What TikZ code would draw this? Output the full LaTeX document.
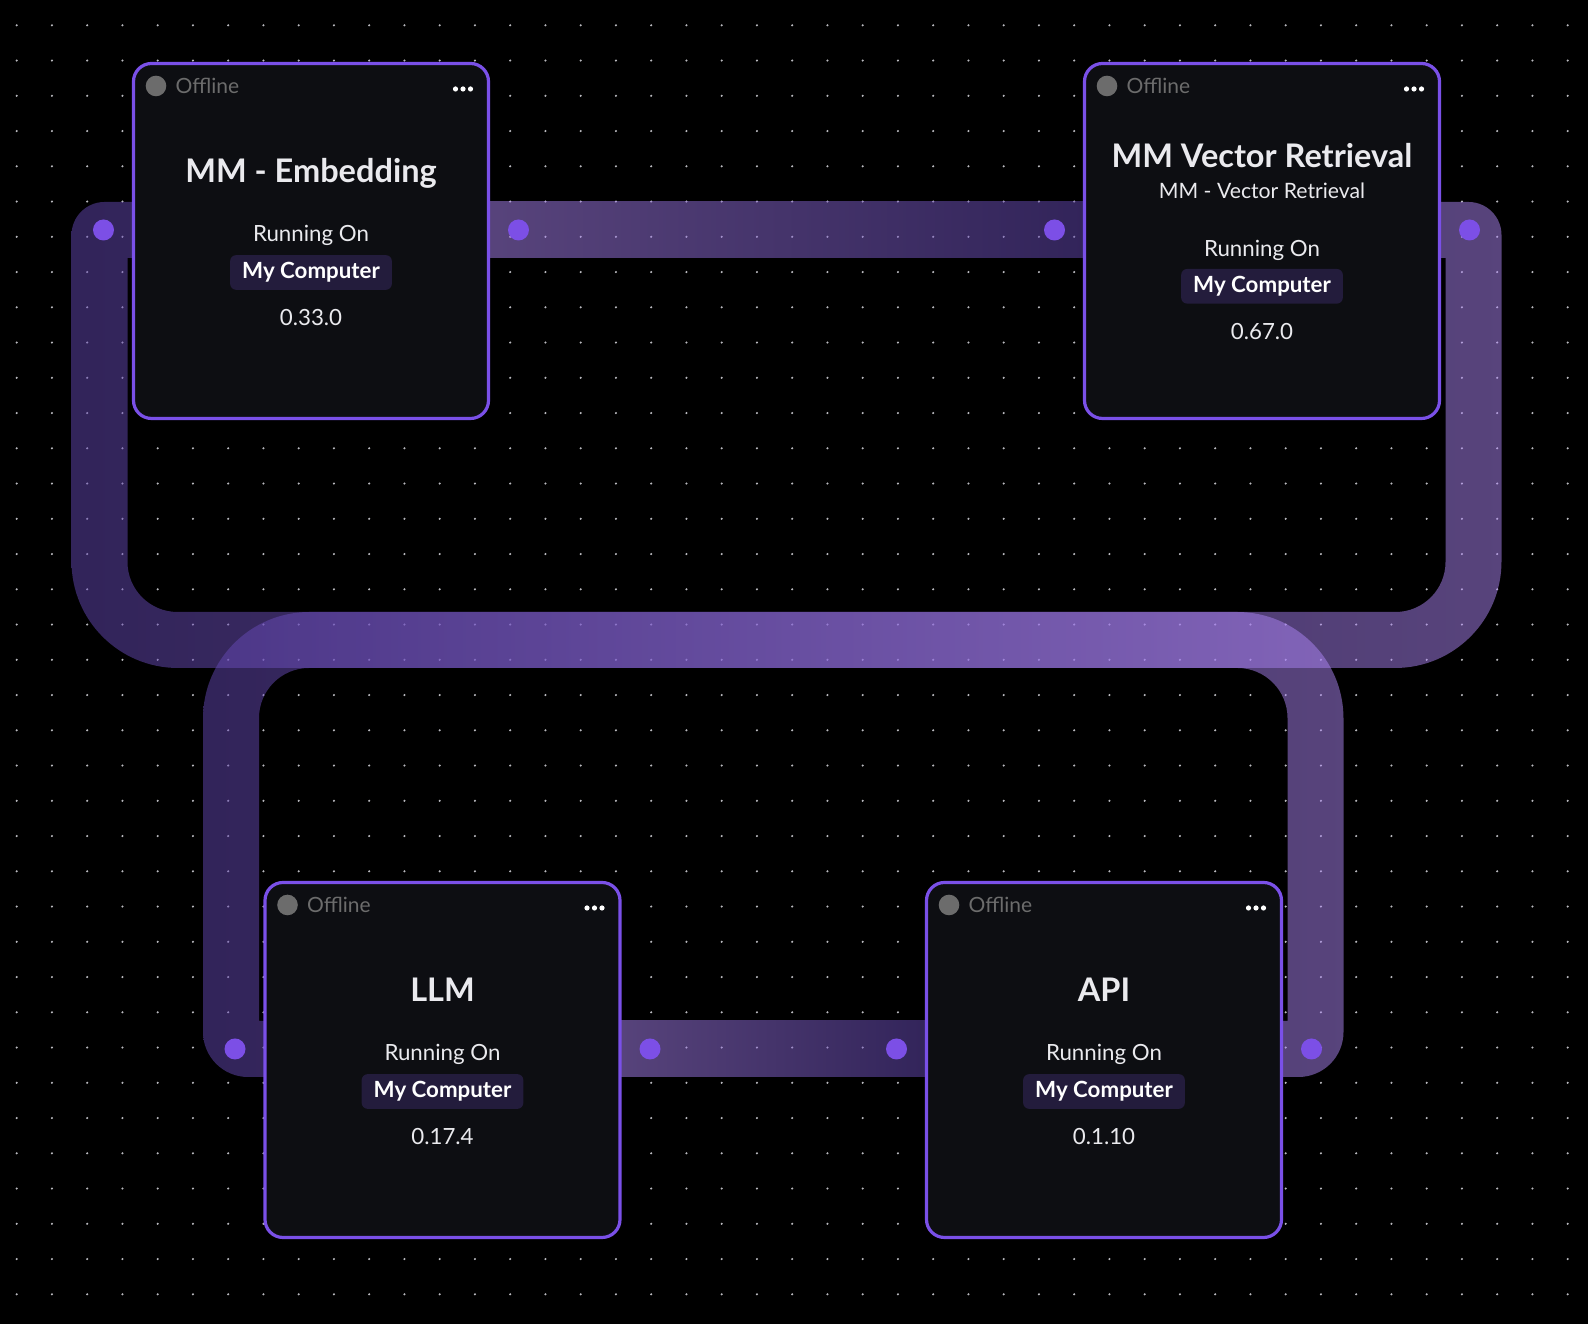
\documentclass[tikz,border=0pt]{standalone}
\usepackage{fontspec}
\setmainfont{Lato}
\usepackage{tikz}
\usetikzlibrary{
  positioning,
  calc
}
\definecolor{cardFill}{RGB}{13,14,18}
\definecolor{cardLine}{RGB}{122,80,232}
\definecolor{handleCol}{RGB}{124,79,230}
\definecolor{badgeFill}{RGB}{35,28,60}
\definecolor{offGray}{RGB}{108,108,108}
\definecolor{textWhite}{RGB}{234,234,238}
\definecolor{gridDot}{RGB}{185,185,190}
\definecolor{bandDark}{RGB}{100,72,180}
\definecolor{bandLight}{RGB}{176,136,248}
\pgfdeclarelayer{grid}
\pgfdeclarelayer{bands}
\pgfsetlayers{grid,bands,main}

\begin{document}
\begin{tikzpicture}[x=1pt, y=1pt,
    card/.style={draw=cardLine, fill=cardFill, line width=3.2pt, rounded corners=18pt,
      minimum width=355pt, minimum height=355pt, inner sep=0pt, outer sep=0pt},
    handle/.style={circle, fill=handleCol, minimum size=21pt, inner sep=0pt},
    status/.style={circle, fill=offGray, minimum size=20.6pt, inner sep=0pt},
    offline/.style={font=\fontsize{21}{25}\selectfont, text=offGray, inner sep=0pt},
    title/.style={font=\bfseries\fontsize{32.5}{39}\selectfont, text=textWhite, inner sep=0pt, anchor=base},
    label/.style={font=\fontsize{22.3}{27}\selectfont, text=textWhite, inner sep=0pt, anchor=base},
    badge/.style={fill=badgeFill, rounded corners=6pt, minimum width=161.7pt, minimum height=34.7pt,
      inner sep=0pt, font=\bfseries\fontsize{22.3}{27}\selectfont, text=white},
    band/.style={opacity=0.5}
  ]
      \useasboundingbox (0,0) rectangle (1588,1324);

      % 背景と点のグリッド
      \begin{pgfonlayer}{grid}
        \fill[black] (0,0) rectangle (1588,1324);
        \foreach \i in {0,...,44}
          \foreach \j in {0,...,36}
            \fill[gridDot] (16.7+35.25*\i, 1298.7-35.25*\j) circle (1.2);
      \end{pgfonlayer}

      % 4つのカード
      \node[card] (emb) at (311,1083) {};
      \node[card] (vec) at (1262,1083) {};
      \node[card] (llm) at (442.5,264) {};
      \node[card] (api) at (1104,264) {};

      % カード共通：状態の丸、Offline、メニューの点、左右のハンドル
      \foreach \n in {emb,vec,llm,api} {
        \node[status] (\n-s) at ($(\n.center)+(-155,155)$) {};
        \node[offline, right=9pt of \n-s] (\n-off) {Offline};
        \foreach \k in {-7.5,0,7.5}
          \fill[white] ($(\n.center)+(152+\k,152)$) circle (2.6);
        \node[handle] (\n-l) at ($(\n.west)+(-30,11)$) {};
        \node[handle] (\n-r) at ($(\n.east)+(30,11)$) {};
      }

      % MM - Embedding
      \node[title] (emb-t) at ($(emb.center)+(0,58)$) {MM - Embedding};
      \node[label] (emb-run) at ($(emb.center)+(0,-1)$) {Running On};
      \node[badge] (emb-b) at ($(emb.center)+(0,-31.5)$) {My Computer};
      \node[label] (emb-v) at ($(emb.center)+(0,-84.5)$) {0.33.0};

      % MM Vector Retrieval
      \node[title] (vec-t) at ($(vec.center)+(0,73.5)$) {MM Vector Retrieval};
      \node[label, font=\fontsize{21.2}{26}\selectfont] (vec-sub) at ($(vec.center)+(0,42.5)$) {MM - Vector Retrieval};
      \node[label] (vec-run) at ($(vec.center)+(0,-15.2)$) {Running On};
      \node[badge] (vec-b) at ($(vec.center)+(0,-45.3)$) {My Computer};
      \node[label] (vec-v) at ($(vec.center)+(0,-98.5)$) {0.67.0};

      % LLM
      \node[title] (llm-t) at ($(llm.center)+(0,58)$) {LLM};
      \node[label] (llm-run) at ($(llm.center)+(0,-1)$) {Running On};
      \node[badge] (llm-b) at ($(llm.center)+(0,-31.5)$) {My Computer};
      \node[label] (llm-v) at ($(llm.center)+(0,-84.5)$) {0.17.4};

      % API
      \node[title] (api-t) at ($(api.center)+(0,58)$) {API};
      \node[label] (api-run) at ($(api.center)+(0,-1)$) {Running On};
      \node[badge] (api-b) at ($(api.center)+(0,-31.5)$) {My Computer};
      \node[label] (api-v) at ($(api.center)+(0,-84.5)$) {0.1.10};

      \begin{pgfonlayer}{bands}
        % emb の右から vec の左への帯
        \shade[band, left color=bandLight, right color=bandDark]
          ($(emb-r)+(-36,28)$) rectangle ($(vec-l)+(36,-28)$);
        % llm の右から api の左への帯
        \shade[band, left color=bandLight, right color=bandDark]
          ($(llm-r)+(-36,28)$) rectangle ($(api-l)+(36,-28)$);

        % emb の左から下を回って vec の右へのループ
        \shade[band, left color=bandDark, right color=bandLight]
          ($(emb-l)+(36,28)$) -- ++(-35,0) arc[start angle=90, end angle=180, radius=33]
          -- ++(0,-326.5) arc[start angle=180, end angle=270, radius=106.5]
          -- ++(1217,0) arc[start angle=270, end angle=360, radius=106.5]
          -- ++(0,326.5) arc[start angle=0, end angle=90, radius=33]
          -- ++(-32,0) -- ++(0,-56) -- ++(9,0)
          -- ++(0,-304) arc[start angle=0, end angle=-90, radius=50]
          -- ++(-1218,0) arc[start angle=270, end angle=180, radius=50]
          -- ++(0,304) -- ++(12,0) -- cycle;

        % llm の左から上を回って api の右へのループ
        \shade[band, left color=bandDark, right color=bandLight]
          ($(llm-l)+(36,-28)$) -- ++(-23,0) arc[start angle=270, end angle=180, radius=45]
          -- ++(0,313.5) arc[start angle=180, end angle=90, radius=106.5]
          -- ++(927.5,0) arc[start angle=90, end angle=0, radius=106.5]
          -- ++(0,-313.5) arc[start angle=0, end angle=-90, radius=45]
          -- ++(-23,0) -- ++(0,56) -- ++(12,0)
          -- ++(0,303) arc[start angle=0, end angle=90, radius=50]
          -- ++(-928.5,0) arc[start angle=90, end angle=180, radius=50]
          -- ++(0,-303) -- ++(12,0) -- cycle;
      \end{pgfonlayer}
    \end{tikzpicture}
\end{document}
